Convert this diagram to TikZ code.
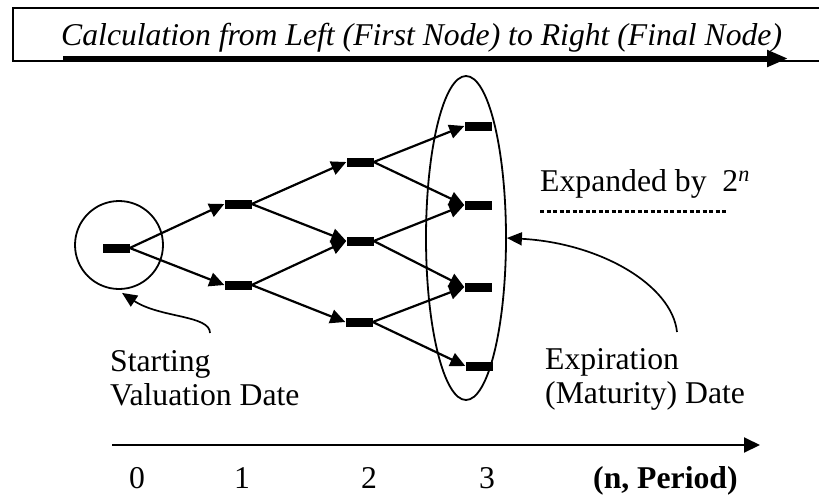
\documentclass[tikz,border=0pt]{standalone}
\usepackage{fontspec}
\setmainfont{Liberation Serif}
\usetikzlibrary{arrows.meta,positioning,shapes.geometric}

\begin{document}
\begin{tikzpicture}[x=1pt,y=1pt,font=\fontsize{31.7}{34.5}\selectfont,
  bar/.style={fill=black, inner sep=0pt, minimum width=27pt, minimum height=9pt},
  link/.style={line width=2.2pt, -{Triangle[length=15pt,width=14pt]}},
  lbl/.style={inner sep=0pt, align=left}]
  \useasboundingbox (0,0) rectangle (819,-496);
  % heading box, open on the right
  \draw[line width=1.5pt] (819,-8) -- (13,-8) -- (13,-61) -- (819,-61);
  \node[anchor=base west, inner sep=0pt] (title) at (61,-45)
    {\itshape Calculation from Left (First Node) to Right (Final Node)};
  \coordinate (flowL) at (63,-58.5);
  \coordinate (flowR) at (788,-58.5);
  \draw[line width=5pt, -{Triangle[length=21pt,width=16pt]}] (flowL) -- (flowR);
  % binomial tree, periods 0 to 3
  \node[bar] (n0) at (116,-248) {};
  \node[bar] (n1a) at (238,-204) {};
  \node[bar] (n1b) at (238,-285) {};
  \node[bar] (n2a) at (360,-162) {};
  \node[bar] (n2b) at (360,-241) {};
  \node[bar] (n2c) at (359,-322) {};
  \node[bar] (n3a) at (478,-126) {};
  \node[bar] (n3b) at (478,-205) {};
  \node[bar] (n3c) at (478,-287) {};
  \node[bar] (n3d) at (479,-366) {};
  \foreach \a/\b in {n0/n1a, n0/n1b, n1a/n2a, n1a/n2b, n1b/n2b, n1b/n2c,
                     n2a/n3a, n2a/n3b, n2b/n3b, n2b/n3c, n2c/n3c, n2c/n3d}
    \draw[link] (\a.east) -- (\b.west);
  % first and final nodes marked
  \node[circle, draw, line width=1.8pt, minimum size=88pt, inner sep=0pt] (start) at (119,-245) {};
  \node[ellipse, draw, line width=1.8pt, minimum width=80pt, minimum height=324pt, inner sep=0pt] (expiry) at (466,-238) {};
  % labels with curved pointers
  \node[lbl, anchor=north west] (startlbl) at (110,-350) {Starting\\Valuation Date};
  \node[lbl, anchor=north west] (expirylbl) at (545,-348) {Expiration\\(Maturity) Date};
  \coordinate (stail) at (210,-333);
  \coordinate (etail) at (677,-332);
  \draw[line width=1.7pt, -{Triangle[length=15pt,width=13pt]}]
    (stail) .. controls (210,-315) and (160,-318) .. ([xshift=3pt,yshift=-3pt]start.south);
  \draw[line width=1.7pt, -{Triangle[length=15pt,width=13pt]}]
    (etail) .. controls (672,-285) and (600,-243) .. (expiry.east);
  % growth note
  \node[anchor=base west, inner sep=0pt] (expand) at (540,-191) {Expanded by\ \ 2\textsuperscript{\textit{n}}};
  \draw[line width=3pt, dash pattern=on 4pt off 2.5pt]
    ([yshift=-13pt]expand.south west) -- ([yshift=-13pt,xshift=-23pt]expand.south east);
  % period axis
  \coordinate (axL) at (112,-445);
  \coordinate (axR) at (760,-445);
  \draw[line width=2pt, -{Triangle[length=16pt,width=15pt]}] (axL) -- (axR);
  \foreach \x/\lab in {137/0, 242/1, 369/2, 487/3}
    \node[anchor=base, inner sep=0pt] (t\lab) at (\x,-488) {\lab};
  \node[anchor=base west, inner sep=0pt] (period) at (593,-488) {\bfseries (n, Period)};
\end{tikzpicture}
\end{document}
